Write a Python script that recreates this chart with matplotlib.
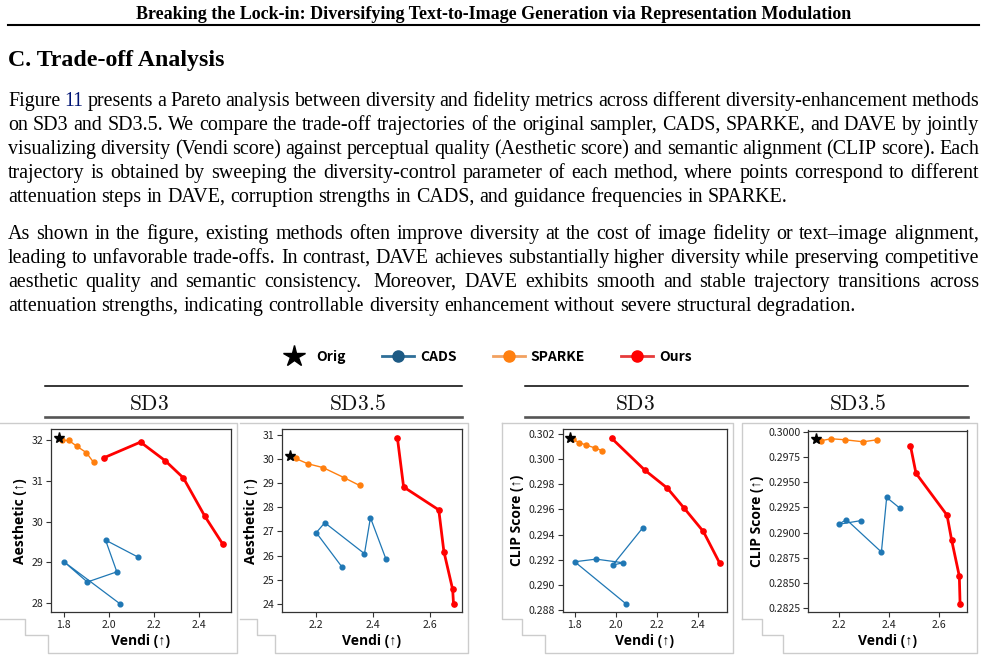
import matplotlib
matplotlib.use('Agg')
import matplotlib.pyplot as plt
from matplotlib.lines import Line2D
from matplotlib.ticker import MultipleLocator, FormatStrFormatter

W, H, DPI = 987, 660, 100
plt.rcParams['mathtext.fontset'] = 'cm'

# ---------------- text content ----------------
HEADER = "Breaking the Lock-in: Diversifying Text-to-Image Generation via Representation Modulation"
HEADING = "C. Trade-off Analysis"
PARA1 = [
    "Figure 11 presents a Pareto analysis between diversity and fidelity metrics across different diversity-enhancement methods",
    "on SD3 and SD3.5. We compare the trade-off trajectories of the original sampler, CADS, SPARKE, and DAVE by jointly",
    "visualizing diversity (Vendi score) against perceptual quality (Aesthetic score) and semantic alignment (CLIP score). Each",
    "trajectory is obtained by sweeping the diversity-control parameter of each method, where points correspond to different",
    "attenuation steps in DAVE, corruption strengths in CADS, and guidance frequencies in SPARKE.",
]
PARA2 = [
    "As shown in the figure, existing methods often improve diversity at the cost of image fidelity or text\u2013image alignment,",
    "leading to unfavorable trade-offs. In contrast, DAVE achieves substantially higher diversity while preserving competitive",
    "aesthetic quality and semantic consistency.  Moreover, DAVE exhibits smooth and stable trajectory transitions across",
    "attenuation strengths, indicating controllable diversity enhancement without severe structural degradation.",
]
LEGEND_LABELS = ["Orig", "CADS", "SPARKE", "Ours"]
GROUP_TITLES = ["SD3", "SD3.5"]
XLABEL = "Vendi (\u2191)"
YLABEL_AES = "Aesthetic (\u2191)"
YLABEL_CLIP = "CLIP Score (\u2191)"

# ---------------- data: SD3 ----------------
orig_vendi_sd3 = 1.778
orig_aes_sd3 = 32.07
orig_clip_sd3 = 0.30172
cads_vendi_sd3 = [2.05, 1.80, 1.904, 2.035, 1.985, 2.13]
cads_aes_sd3 = [27.98, 29.02, 28.52, 28.77, 29.55, 29.13]
cads_clip_sd3 = [0.28848, 0.29184, 0.29205, 0.29176, 0.29158, 0.29453]
sparke_vendi_sd3 = [1.790, 1.822, 1.857, 1.900, 1.932]
sparke_aes_sd3 = [32.00, 32.00, 31.86, 31.70, 31.46]
sparke_clip_sd3 = [0.30160, 0.30132, 0.30112, 0.30089, 0.30069]
ours_vendi_sd3 = [1.980, 2.140, 2.250, 2.330, 2.425, 2.505]
ours_aes_sd3 = [31.58, 31.96, 31.50, 31.08, 30.14, 29.45]
ours_clip_sd3 = [0.30166, 0.29914, 0.29770, 0.29614, 0.29425, 0.29171]

# ---------------- data: SD3.5 ----------------
orig_vendi_sd35 = 2.107
orig_aes_sd35 = 30.12
orig_clip_sd35 = 0.29933
cads_vendi_sd35 = [2.290, 2.200, 2.230, 2.370, 2.391, 2.445]
cads_aes_sd35 = [25.54, 26.95, 27.36, 26.08, 27.57, 25.88]
cads_clip_sd35 = [0.29120, 0.29083, 0.29130, 0.28807, 0.29350, 0.29240]
sparke_vendi_sd35 = [2.127, 2.170, 2.224, 2.297, 2.353]
sparke_aes_sd35 = [30.02, 29.80, 29.64, 29.23, 28.90]
sparke_clip_sd35 = [0.29913, 0.29933, 0.29923, 0.29903, 0.29923]
ours_vendi_sd35 = [2.486, 2.508, 2.632, 2.650, 2.681, 2.684]
ours_aes_sd35 = [30.88, 28.84, 27.89, 26.17, 24.60, 24.00]
ours_clip_sd35 = [0.29863, 0.29590, 0.29173, 0.28930, 0.28567, 0.28290]

C_CADS = '#1f77b4'
C_SP = '#ff7f0e'
C_OURS = '#ff0000'
PLOT_FONT = ['Noto Sans CJK SC', 'DejaVu Sans']
LABEL_FONT = ['Open Sans', 'Liberation Sans', 'DejaVu Sans']
SERIF = ['Liberation Serif', 'DejaVu Serif']

fig = plt.figure(figsize=(W / DPI, H / DPI), dpi=DPI)
fig.patch.set_facecolor('white')
renderer = fig.canvas.get_renderer()


def fx(x):
    return x / W


def fy(y):
    return 1 - y / H


def fit_text(t, target_w):
    w = t.get_window_extent(renderer=renderer).width
    t.set_fontsize(t.get_fontsize() * target_w / w)


# header
t = fig.text(fx(493.5), fy(19), HEADER, ha='center', va='baseline',
             family=SERIF, weight='bold', fontsize=12)
fit_text(t, 713)
fig.add_artist(Line2D([fx(8), fx(979)], [fy(25), fy(25)], transform=fig.transFigure,
                      color='black', lw=1.5))
t = fig.text(fx(8), fy(66), HEADING, ha='left', va='baseline',
             family=SERIF, weight='bold', fontsize=17)
fit_text(t, 217)

# body paragraphs (justified)
X0, X1 = 8, 979
LINK_BLUE = '#001473'
MIN_SPACE_EM = 0.21


def line_tokens(s):
    toks = s.split(' ')
    words, weights = [], []
    w = 1.0
    for tk in toks:
        if tk == '':
            w += 0.6
            continue
        words.append(tk)
        weights.append(w)
        w = 1.0
    return words, weights[1:]


def words_width(s, fs):
    words, weights = line_tokens(s)
    tot = 0.0
    for wd in words:
        tt = fig.text(0, 0, wd, fontsize=fs, family=SERIF)
        tot += tt.get_window_extent(renderer=renderer).width
        tt.remove()
    return tot, sum(weights)


TRIAL = 14.4
BODY_FS = TRIAL
for s in PARA1[:-1] + PARA2[:-1]:
    a, nsp = words_width(s, TRIAL)
    a /= TRIAL
    fs_max = (X1 - X0) / (a + MIN_SPACE_EM * DPI / 72 * nsp)
    BODY_FS = min(BODY_FS, fs_max)


def place_line(s, y, justify, blue_tokens=()):
    words, weights = line_tokens(s)
    texts, widths = [], []
    for wd in words:
        col = LINK_BLUE if wd in blue_tokens else 'black'
        tt = fig.text(0, fy(y), wd, fontsize=BODY_FS, family=SERIF, color=col,
                      ha='left', va='baseline')
        texts.append(tt)
        widths.append(tt.get_window_extent(renderer=renderer).width)
    nat = 0.25 * BODY_FS * DPI / 72
    if justify and len(words) > 1:
        unit = (X1 - X0 - sum(widths)) / sum(weights)
    else:
        unit = nat
    x = X0
    for i, (tt, wd) in enumerate(zip(texts, widths)):
        tt.set_x(fx(x))
        x += wd
        if i < len(weights):
            x += unit * weights[i]


for i, (s, y) in enumerate(zip(PARA1, [106, 130, 154, 178, 202])):
    place_line(s, y, i < len(PARA1) - 1, blue_tokens=('11',) if i == 0 else ())
for i, (s, y) in enumerate(zip(PARA2, [239, 263, 287, 311])):
    place_line(s, y, i < len(PARA2) - 1)

# legend
handles = [
    Line2D([], [], ls='none', marker='*', color='black', ms=16),
    Line2D([], [], color='#2f6f98', lw=2, marker='o', ms=8, markerfacecolor='#1d5a84',
           markeredgecolor='#1d5a84'),
    Line2D([], [], color='#f2a160', lw=2, marker='o', ms=8, markerfacecolor='#ff8010',
           markeredgecolor='#ff8010'),
    Line2D([], [], color='#e63b3b', lw=2, marker='o', ms=8, markerfacecolor='#ff0000',
           markeredgecolor='#ff0000'),
]
fig.legend(handles, LEGEND_LABELS, loc='center', bbox_to_anchor=(fx(485), fy(357)),
           ncol=4, frameon=False, handlelength=2.3, handletextpad=0.45, columnspacing=2.6,
           prop=dict(family=PLOT_FONT, weight='bold', size=10))

# group headers
for (gx0, gx1, cxs) in [(45, 462, (149, 357)), (525, 968, (635, 857))]:
    fig.add_artist(Line2D([fx(gx0), fx(gx1)], [fy(386), fy(386)], transform=fig.transFigure,
                          color='black', lw=1.1))
    fig.add_artist(Line2D([fx(gx0), fx(gx1)], [fy(416.5), fy(416.5)], transform=fig.transFigure,
                          color='#555555', lw=1.9))
    for cx, title in zip(cxs, GROUP_TITLES):
        fig.text(fx(cx), fy(404), r'$\mathrm{%s}$' % title, ha='center', va='center',
                 fontsize=15.5, color='#111111')

# light gray screenshot frames
GRAY = '#cccccc'
frames = [
    [(0, 619), (25, 619), (25, 635), (48, 635), (48, 653), (237, 653), (237, 423), (0, 423)],
    [(240, 619), (257, 619), (257, 635), (275, 635), (275, 653), (468, 653), (468, 423),
     (240, 423)],
    [(502, 423), (733, 423), (733, 653), (545, 653), (545, 635), (522, 635), (522, 619),
     (502, 619), (502, 423)],
    [(742, 619), (742, 423), (977, 423), (977, 653), (783, 653), (783, 635), (762, 635),
     (762, 619), (742, 619)],
]
for pts in frames:
    xs = [fx(p[0]) for p in pts]
    ys = [fy(p[1]) for p in pts]
    fig.add_artist(Line2D(xs, ys, transform=fig.transFigure, color=GRAY, lw=1.0))


def make_ax(x0, x1, y0, y1):
    ax = fig.add_axes([fx(x0), fy(y1), (x1 - x0) / W, (y1 - y0) / H])
    for sp in ax.spines.values():
        sp.set_color('#333333')
        sp.set_linewidth(0.9)
    ax.tick_params(direction='out', length=3.5, width=0.8, color='#333333',
                   labelsize=7.6, labelcolor='#222222', pad=2)
    return ax


def draw_panel(ax, cads_v, cads_y, sp_v, sp_y, ours_v, ours_y, o_v, o_y, ylabel,
               yloc, yfmt):
    ax.plot(cads_v, cads_y, '-o', color=C_CADS, lw=0.9, ms=3.4, zorder=2)
    ax.plot(sp_v, sp_y, '-o', color=C_SP, lw=1.0, ms=3.6, zorder=3)
    ax.plot(ours_v, ours_y, '-o', color=C_OURS, lw=2.0, ms=3.8, zorder=4)
    ax.plot([o_v], [o_y], ls='none', marker='*', color='black', ms=8, zorder=5)
    ax.xaxis.set_major_locator(MultipleLocator(0.2))
    ax.xaxis.set_major_formatter(FormatStrFormatter('%.1f'))
    ax.yaxis.set_major_locator(MultipleLocator(yloc))
    ax.yaxis.set_major_formatter(FormatStrFormatter(yfmt))
    for lab in ax.get_xticklabels() + ax.get_yticklabels():
        lab.set_family(PLOT_FONT)
    ax.set_xlabel(XLABEL, family=LABEL_FONT, weight='bold', fontsize=10, labelpad=3)
    ax.set_ylabel(ylabel, family=LABEL_FONT, weight='bold', fontsize=10, labelpad=3)


axA = make_ax(50.7, 231.0, 429.3, 612.3)
draw_panel(axA, cads_vendi_sd3, cads_aes_sd3, sparke_vendi_sd3, sparke_aes_sd3,
           ours_vendi_sd3, ours_aes_sd3, orig_vendi_sd3, orig_aes_sd3, YLABEL_AES, 1, '%d')
axB = make_ax(281.7, 461.7, 429.3, 612.3)
draw_panel(axB, cads_vendi_sd35, cads_aes_sd35, sparke_vendi_sd35, sparke_aes_sd35,
           ours_vendi_sd35, ours_aes_sd35, orig_vendi_sd35, orig_aes_sd35, YLABEL_AES, 1, '%d')
axC = make_ax(562.7, 727.3, 429.3, 612.3)
draw_panel(axC, cads_vendi_sd3, cads_clip_sd3, sparke_vendi_sd3, sparke_clip_sd3,
           ours_vendi_sd3, ours_clip_sd3, orig_vendi_sd3, orig_clip_sd3, YLABEL_CLIP,
           0.002, '%.3f')
axD = make_ax(808.3, 967.3, 430.5, 612.3)
draw_panel(axD, cads_vendi_sd35, cads_clip_sd35, sparke_vendi_sd35, sparke_clip_sd35,
           ours_vendi_sd35, ours_clip_sd35, orig_vendi_sd35, orig_clip_sd35, YLABEL_CLIP,
           0.0025, '%.4f')

fig.savefig('out.png', dpi=DPI, facecolor='white')
